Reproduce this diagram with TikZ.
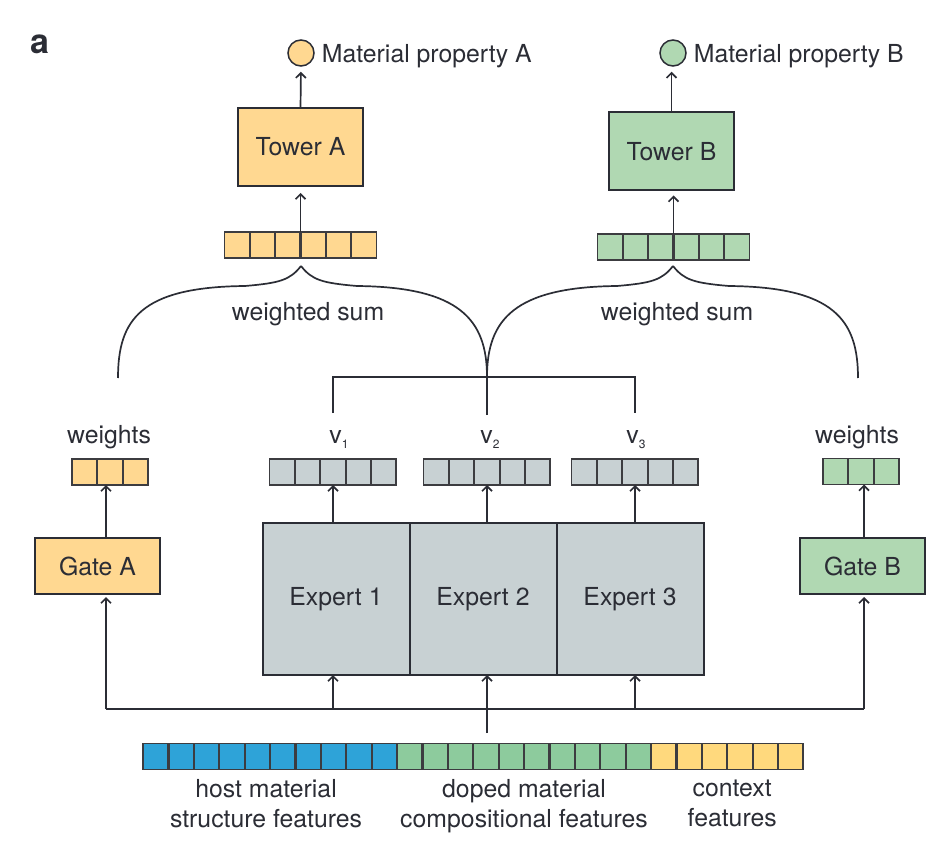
\documentclass[tikz,border=0pt]{standalone}
\usepackage{fontspec}
\setmainfont{TeX Gyre Heros}
\usetikzlibrary{arrows.meta, positioning}

\definecolor{ink}{HTML}{2B2D35}
\definecolor{yelA}{HTML}{FFD891}
\definecolor{grnB}{HTML}{B0D8B2}
\definecolor{expgray}{HTML}{C8D1D3}
\definecolor{hostblue}{HTML}{2EA3D8}
\definecolor{dopegreen}{HTML}{8DCB9D}
\definecolor{ctxyellow}{HTML}{FFD97D}
\definecolor{celline}{HTML}{3C3C40}

\newcommand{\vsub}[1]{v\raisebox{-5pt}{\fontsize{12}{12}\selectfont #1}}

\begin{document}
\begin{tikzpicture}[
  x=1pt, y=-1pt,
  font=\fontsize{24.8}{30}\selectfont,
  >={Straight Barb[length=5pt,width=10pt]},
  line/.style={draw=ink, line width=1.7pt},
  arr/.style={line, ->},
  box/.style={draw=ink, line width=2pt, text=ink, inner sep=0pt, outer sep=0pt},
  tower/.style={box, minimum width=125pt, minimum height=78pt},
  gate/.style={box, minimum width=125pt, minimum height=56pt},
  expert/.style={box, fill=expgray, minimum width=147pt, minimum height=152pt},
  prop/.style={circle, draw=ink, line width=1.5pt, minimum size=26pt, inner sep=0pt},
  txt/.style={text=ink, inner sep=0pt},
  vec/.style={draw=celline, line width=1.3pt, inner sep=0pt, outer sep=0pt,
    minimum width=#1*25.4pt, minimum height=26pt,
    path picture={\foreach \k in {1,...,#1}{\draw[celline, line width=2.2pt]
      ([xshift=\k*25.4pt]path picture bounding box.south west) --
      ([xshift=\k*25.4pt]path picture bounding box.north west);}}}]

  \useasboundingbox (0,0) rectangle (944,858);

  \node[txt, font=\bfseries\fontsize{34}{34}\selectfont] (panel) at (40,44) {a};

  % towers and outputs
  \node[prop, fill=yelA] (propA) at (301,53) {};
  \node[prop, fill=grnB] (propB) at (673,53) {};
  \node[txt, text depth=0pt, right=7pt of propA] (propAtxt) {Material property A};
  \node[txt, text depth=0pt, right=7pt of propB] (propBtxt) {Material property B};
  \node[tower, fill=yelA] (towerA) at (300.5,147) {Tower A};
  \node[tower, fill=grnB] (towerB) at (671.5,151.5) {Tower B};
  \node[vec=6, fill=yelA] (vecA) at (300.5,245) {};
  \node[vec=6, fill=grnB] (vecB) at (673.5,247) {};
  \node[txt, anchor=base] (sumA) at (308,320) {weighted sum};
  \node[txt, anchor=base] (sumB) at (677,320) {weighted sum};

  % gates
  \node[gate, fill=yelA] (gateA) at (97.5,566) {Gate A};
  \node[gate, fill=grnB] (gateB) at (862.5,566) {Gate B};
  \node[vec=3, fill=yelA] (wA) at (110,472) {};
  \node[vec=3, fill=grnB] (wB) at (861,471.5) {};
  \node[txt, anchor=base] (wAtxt) at (109,443) {weights};
  \node[txt, anchor=base] (wBtxt) at (857,443) {weights};

  % experts
  \node[expert] (ex1) at (336,599) {Expert 1};
  \node[expert, right=0pt of ex1] (ex2) {Expert 2};
  \node[expert, right=0pt of ex2] (ex3) {Expert 3};
  \node[vec=5, fill=expgray] (v1) at (333,472) {};
  \node[vec=5, fill=expgray] (v2) at (487,472) {};
  \node[vec=5, fill=expgray] (v3) at (635,472) {};
  \node[txt, anchor=base] (v1txt) at (339,443) {\vsub{1}};
  \node[txt, anchor=base] (v2txt) at (490,443) {\vsub{2}};
  \node[txt, anchor=base] (v3txt) at (636,443) {\vsub{3}};

  % input features
  \node[vec=10, fill=hostblue] (host) at (270,756.5) {};
  \node[vec=10, fill=dopegreen, right=0pt of host] (doped) {};
  \node[vec=6, fill=ctxyellow, right=0pt of doped] (ctx) {};
  \node[txt, align=center, below=10pt of host, xshift=-4pt] (hosttxt) {host material\\structure features};
  \node[txt, align=center, below=10pt of doped] (dopedtxt) {doped material\\compositional features};
  \node[txt, align=center, below=10pt of ctx, xshift=5pt] (ctxtxt) {context\\features};

  \coordinate (busA) at (106,709);
  \coordinate (busB) at (864,709);
  \coordinate (feed) at (487,733);
  \coordinate (merge) at (487,377);
  \coordinate (tipA) at (301,266);
  \coordinate (tipB) at (673,266);
  \coordinate (gwA) at (118,378);
  \coordinate (gwB) at (858,378);

  % connectors
  \draw[arr, shorten >=5pt] (towerA.north) -- (propA.south);
  \draw[arr, shorten >=5pt] (towerB.north) -- (towerB.north |- propB.south);
  \draw[arr, shorten >=7pt] (vecA.north) -- (towerA.south);
  \draw[arr, shorten >=5pt] (vecB.north) -- (vecB.north |- towerB.south);

  \draw[line] (feed) -- (feed |- busA);
  \draw[line] (busA) -- (busB);
  \draw[arr, shorten >=3pt] (busA) -- (busA |- gateA.south);
  \draw[arr, shorten >=3pt] (busB) -- (busB |- gateB.south);
  \draw[arr] (busA |- gateA.north) -- (busA |- wA.south);
  \draw[arr] (busB |- gateB.north) -- (busB |- wB.south);
  \foreach \e/\v in {ex1/v1, ex2/v2, ex3/v3}{
    \draw[arr] (\v.south |- busA) -- (\v.south |- \e.south);
    \draw[arr] (\v.south |- \e.north) -- (\v.south);
  }

  \draw[line] ([yshift=46pt]v1.north) |- ([yshift=82pt]v3.north) -- ([yshift=46pt]v3.north);
  \draw[line] ([yshift=44pt]v2.north) -- (merge);

  % braces
  \draw[line] (tipA) .. controls (290,280) and (280,283) .. (245,286)
    .. controls (140,287) and (118,320) .. (gwA);
  \draw[line] (tipA) .. controls (312,280) and (322,283) .. (357,286)
    .. controls (460,287) and (487,320) .. (merge);
  \draw[line] (tipB) .. controls (662,280) and (652,283) .. (617,286)
    .. controls (514,287) and (487,320) .. (merge);
  \draw[line] (tipB) .. controls (684,280) and (694,283) .. (729,286)
    .. controls (834,287) and (858,320) .. (gwB);
\end{tikzpicture}
\end{document}
